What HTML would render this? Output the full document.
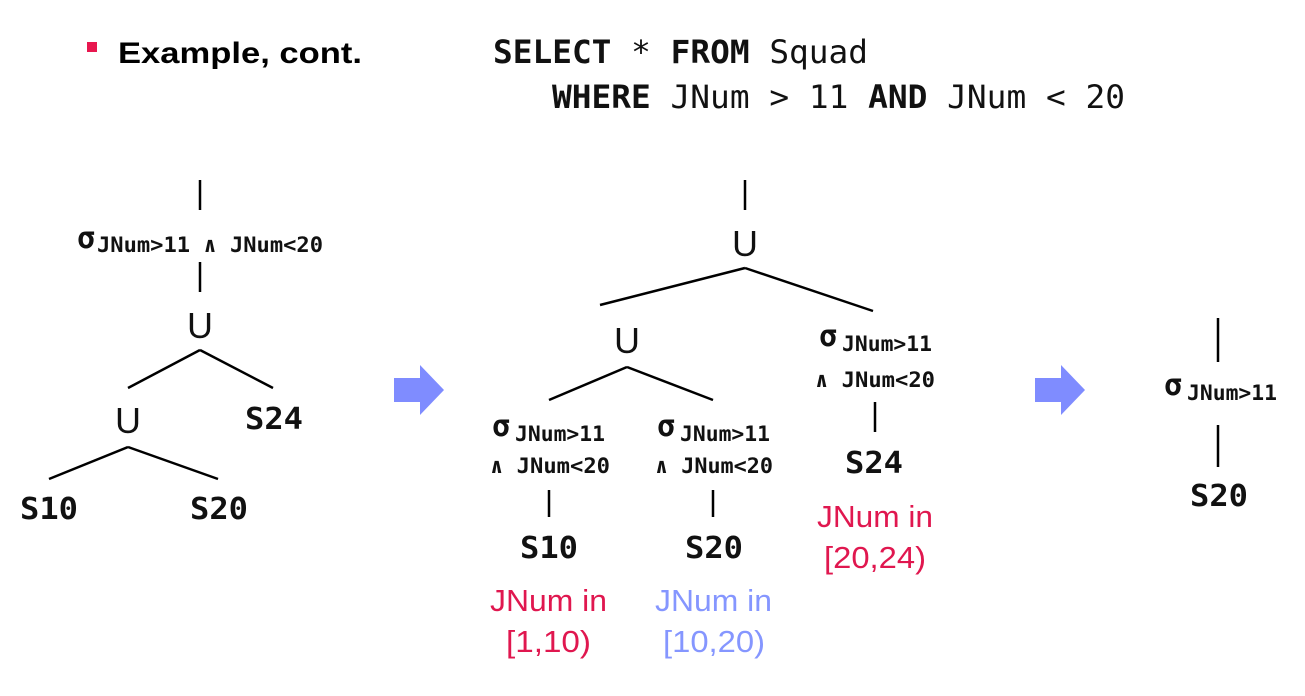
<!DOCTYPE html>
<html><head><meta charset="utf-8"><style>
html,body{margin:0;padding:0;background:#fff;}
svg{display:block}
.m{font-family:"DejaVu Sans Mono","Liberation Mono",monospace;font-weight:bold;}
.s{font-family:"Liberation Sans","DejaVu Sans",sans-serif;}
</style></head><body>
<svg width="1305" height="696" viewBox="0 0 1305 696" xmlns="http://www.w3.org/2000/svg">
<rect x="87" y="42" width="10" height="10" fill="#e8174f"/>
<text x="118" y="63" class="s" font-weight="bold" font-size="30" fill="#000" textLength="244" lengthAdjust="spacingAndGlyphs">Example, cont.</text>
<g font-family="'DejaVu Sans Mono','Liberation Mono',monospace" font-size="32" fill="#111">
<text x="493" y="63" textLength="375" lengthAdjust="spacingAndGlyphs"><tspan font-weight="bold">SELECT</tspan> * <tspan font-weight="bold">FROM</tspan> Squad</text>
<text x="552" y="108" textLength="573" lengthAdjust="spacingAndGlyphs"><tspan font-weight="bold">WHERE</tspan> JNum &gt; 11 <tspan font-weight="bold">AND</tspan> JNum &lt; 20</text>
</g>
<g stroke="#000" stroke-width="2.5" fill="none">
<line x1="200" y1="180" x2="200" y2="210"/>
<line x1="200" y1="262" x2="200" y2="292"/>
<line x1="200" y1="350" x2="128" y2="388"/>
<line x1="200" y1="350" x2="273" y2="388"/>
<line x1="128" y1="447" x2="49" y2="479"/>
<line x1="128" y1="447" x2="218" y2="479"/>
<line x1="745" y1="180" x2="745" y2="210"/>
<line x1="745" y1="268" x2="600" y2="305"/>
<line x1="745" y1="268" x2="873" y2="311"/>
<line x1="627" y1="367" x2="549" y2="400"/>
<line x1="627" y1="367" x2="713" y2="400"/>
<line x1="875" y1="402" x2="875" y2="432"/>
<line x1="549" y1="490" x2="549" y2="517"/>
<line x1="713" y1="490" x2="713" y2="517"/>
<line x1="1218" y1="318" x2="1218" y2="362"/>
<line x1="1218" y1="425" x2="1218" y2="467"/>
</g>
<g fill="#7f8cff">
<polygon points="394,378 420,378 420,365 444,390 420,415 420,402 394,402"/>
<polygon points="1035,378 1061,378 1061,365 1085,390 1061,415 1061,402 1035,402"/>
</g>
<g class="s" font-size="36" text-anchor="middle" fill="#111">
<text x="200" y="338">U</text>
<text x="128" y="433">U</text>
<text x="745" y="256">U</text>
<text x="627" y="353">U</text>
</g>
<g class="m" fill="#111">
<text x="77" y="248" font-size="30">σ</text>
<text x="97" y="252" font-size="21" textLength="226" lengthAdjust="spacingAndGlyphs">JNum&gt;11 ∧ JNum&lt;20</text>
<text x="245" y="429" font-size="30" textLength="58" lengthAdjust="spacingAndGlyphs">S24</text>
<text x="20" y="519" font-size="30" textLength="58" lengthAdjust="spacingAndGlyphs">S10</text>
<text x="190" y="519" font-size="30" textLength="58" lengthAdjust="spacingAndGlyphs">S20</text>

<text x="492" y="436" font-size="30">σ</text>
<text x="515" y="441" font-size="21" textLength="90" lengthAdjust="spacingAndGlyphs">JNum&gt;11</text>
<text x="490" y="473" font-size="21" textLength="120" lengthAdjust="spacingAndGlyphs">∧ JNum&lt;20</text>
<text x="657" y="436" font-size="30">σ</text>
<text x="680" y="441" font-size="21" textLength="90" lengthAdjust="spacingAndGlyphs">JNum&gt;11</text>
<text x="655" y="473" font-size="21" textLength="118" lengthAdjust="spacingAndGlyphs">∧ JNum&lt;20</text>
<text x="819" y="346" font-size="30">σ</text>
<text x="842" y="351" font-size="21" textLength="90" lengthAdjust="spacingAndGlyphs">JNum&gt;11</text>
<text x="815" y="387" font-size="21" textLength="120" lengthAdjust="spacingAndGlyphs">∧ JNum&lt;20</text>
<text x="845" y="473" font-size="30" textLength="58" lengthAdjust="spacingAndGlyphs">S24</text>
<text x="520" y="558" font-size="30" textLength="58" lengthAdjust="spacingAndGlyphs">S10</text>
<text x="685" y="558" font-size="30" textLength="58" lengthAdjust="spacingAndGlyphs">S20</text>

<text x="1164" y="395" font-size="30">σ</text>
<text x="1187" y="400" font-size="21" textLength="90" lengthAdjust="spacingAndGlyphs">JNum&gt;11</text>
<text x="1190" y="506" font-size="30" textLength="58" lengthAdjust="spacingAndGlyphs">S20</text>
</g>
<g class="s" font-size="31">
<text x="490" y="611" fill="#e0174f" textLength="117" lengthAdjust="spacingAndGlyphs">JNum in</text>
<text x="506" y="652" fill="#e0174f" textLength="85" lengthAdjust="spacingAndGlyphs">[1,10)</text>
<text x="655" y="611" fill="#8596ff" textLength="117" lengthAdjust="spacingAndGlyphs">JNum in</text>
<text x="663" y="652" fill="#8596ff" textLength="102" lengthAdjust="spacingAndGlyphs">[10,20)</text>
<text x="817" y="527" fill="#e0174f" textLength="116" lengthAdjust="spacingAndGlyphs">JNum in</text>
<text x="824" y="568" fill="#e0174f" textLength="102" lengthAdjust="spacingAndGlyphs">[20,24)</text>
</g>
</svg>
</body></html>
